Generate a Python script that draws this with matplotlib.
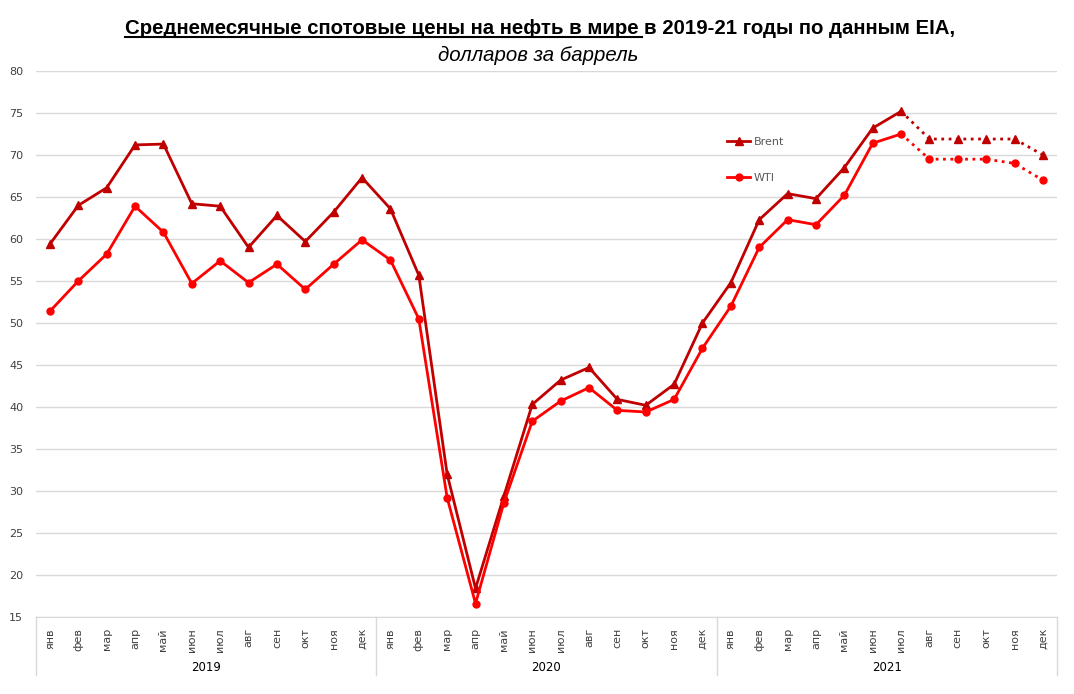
import numpy as np
import matplotlib
matplotlib.use('Agg')
import matplotlib.pyplot as plt
from matplotlib.lines import Line2D
import matplotlib.transforms as mtransforms

months = ['янв', 'фев', 'мар', 'апр', 'май', 'июн', 'июл', 'авг', 'сен', 'окт', 'ноя', 'дек']
years = ['2019', '2020', '2021']

brent = [59.4, 64.0, 66.1, 71.2, 71.3, 64.2, 63.9, 59.0, 62.8, 59.7, 63.2, 67.3,
         63.6, 55.7, 32.0, 18.4, 29.4, 40.3, 43.2, 44.7, 40.9, 40.2, 42.7, 50.0,
         54.8, 62.3, 65.4, 64.8, 68.5, 73.2, 75.2, 71.9, 71.9, 71.9, 71.9, 70.0]
wti = [51.4, 55.0, 58.2, 63.9, 60.8, 54.7, 57.4, 54.8, 57.0, 54.0, 57.0, 59.9,
       57.5, 50.5, 29.2, 16.6, 28.6, 38.3, 40.7, 42.3, 39.6, 39.4, 40.9, 47.0,
       52.0, 59.0, 62.3, 61.7, 65.2, 71.4, 72.5, 69.5, 69.5, 69.5, 69.0, 67.0]
last_actual = 30  # июл 2021, after it - forecast

brent_c = '#C00000'
wti_c = '#FF0000'

fig = plt.figure(figsize=(10.74, 6.94), dpi=100)
ax = fig.add_axes([0.0333, 0.111, 0.951, 0.7867])

x = np.arange(len(brent))
n = last_actual + 1
lw = 2.0
ax.plot(x[:n], brent[:n], color=brent_c, lw=lw, marker='^', ms=5.5, label='Brent', zorder=3)
ax.plot(x[last_actual:], brent[last_actual:], color=brent_c, lw=lw, ls=':', marker='^', ms=5.5,
        markevery=list(range(1, len(brent) - last_actual)), zorder=3)
ax.plot(x[:n], wti[:n], color=wti_c, lw=lw, marker='o', ms=5, label='WTI', zorder=3)
ax.plot(x[last_actual:], wti[last_actual:], color=wti_c, lw=lw, ls=':', marker='o', ms=5,
        markevery=list(range(1, len(wti) - last_actual)), zorder=3)

ax.set_xlim(-0.5, len(brent) - 0.5)
ax.set_ylim(15, 80)
ax.set_yticks(np.arange(15, 81, 5))
ax.yaxis.grid(True, color='#d9d9d9', lw=1)
ax.set_axisbelow(True)
for s in ['left', 'right', 'top']:
    ax.spines[s].set_visible(False)
ax.spines['bottom'].set_color('#d9d9d9')
ax.tick_params(axis='y', length=0, labelsize=8, colors='#404040', pad=9)
ax.tick_params(axis='x', length=0, labelsize=8, colors='#404040', pad=8)
ax.set_xticks(x)
ax.set_xticklabels(months * len(years), rotation=90)

# year groups
trans = mtransforms.blended_transform_factory(ax.transData, ax.transAxes)
for i, yr in enumerate(years):
    ax.text(i * 12 + 5.5, -0.092, yr, transform=trans, ha='center', va='center',
            fontsize=8.5, color='#000000')
for i in range(len(years) + 1):
    ax.add_line(Line2D([i * 12 - 0.5, i * 12 - 0.5], [0, -0.107], transform=trans,
                       color='#d9d9d9', lw=1, clip_on=False))

leg = ax.legend(loc='upper left', bbox_to_anchor=(0.667, 0.898), frameon=False,
                fontsize=8, labelspacing=2.4, handlelength=2.1, handletextpad=0.3)
for t in leg.get_texts():
    t.set_color('#595959')

# title with underlined first part
fam = ['Liberation Sans', 'DejaVu Sans']
fs = 14.7
t1 = fig.text(0, 0, 'Среднемесячные спотовые цены на нефть в мире ', fontsize=fs,
              fontweight='bold', family=fam)
t2 = fig.text(0, 0, 'в 2019-21 годы по данным EIA,', fontsize=fs, fontweight='bold', family=fam)
fig.canvas.draw()
r = fig.canvas.get_renderer()
w1 = t1.get_window_extent(r).width
w2 = t2.get_window_extent(r).width
W, H = fig.bbox.width, fig.bbox.height
x0 = 540 - (w1 + w2) / 2
ybase = H - 34
t1.set_position((x0 / W, ybase / H))
t2.set_position(((x0 + w1) / W, ybase / H))
fig.add_artist(Line2D([x0 / W, (x0 + w1 - 2) / W], [(ybase - 3) / H, (ybase - 3) / H],
                      transform=fig.transFigure, color='black', lw=1.5))
fig.text(538 / W, (H - 55) / H, 'долларов за баррель', fontsize=fs, style='italic',
         family=fam, ha='center', va='center')

fig.savefig('out.png', dpi=100)
